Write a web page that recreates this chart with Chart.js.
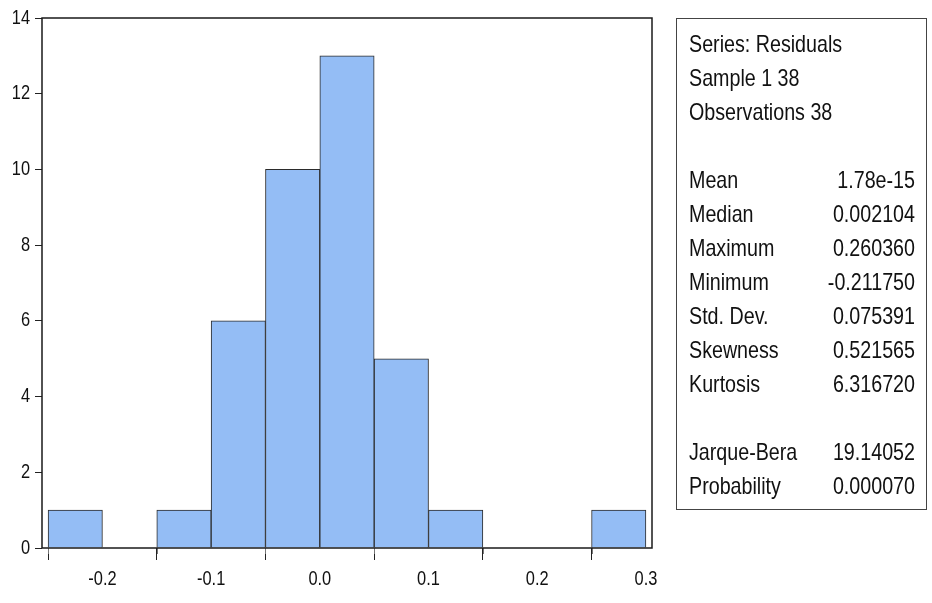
<!DOCTYPE html>
<html>
<head>
<meta charset="utf-8">
<script src="https://cdn.jsdelivr.net/npm/chart.js@4.4.0/dist/chart.umd.min.js"></script>
<style>
  html, body { margin: 0; padding: 0; background: #ffffff; }
  #wrap { width: 932px; height: 603px; position: relative; }
</style>
</head>
<body>
<div id="wrap"><canvas id="hist" width="932" height="603"></canvas></div>
<script>
// Histogram of residuals: bins of width 0.05 starting at each value below
const binStarts = [-0.25, -0.20, -0.15, -0.10, -0.05, 0.00, 0.05, 0.10, 0.15, 0.20, 0.25];
const binCounts = [1, 0, 1, 6, 10, 13, 5, 1, 0, 0, 1];
const binWidth = 0.05;

// Axis ticks
const xTickValues = [-0.2, -0.1, 0.0, 0.1, 0.2, 0.3];
const xTickLabels = ['-0.2', '-0.1', '0.0', '0.1', '0.2', '0.3'];
const xMinorTicks = [-0.25, -0.15, -0.05, 0.05, 0.15, 0.25];
const yTickValues = [0, 2, 4, 6, 8, 10, 12, 14];

// Descriptive statistics panel
const statsHeader = ['Series: Residuals', 'Sample 1 38', 'Observations 38'];
const statNames = ['Mean', 'Median', 'Maximum', 'Minimum', 'Std. Dev.', 'Skewness', 'Kurtosis'];
const statValues = ['1.78e-15', '0.002104', '0.260360', '-0.211750', '0.075391', '0.521565', '6.316720'];
const testNames = ['Jarque-Bera', 'Probability'];
const testValues = ['19.14052', '0.000070'];

const FONT = '"Liberation Sans", Arial, sans-serif';
const NARROW = 0.82; // horizontal squeeze giving a narrow sans face
Chart.defaults.font.family = FONT;

// Run a drawing function with fillText squeezed horizontally about its anchor
function withNarrowText(ctx, fn) {
  const orig = ctx.fillText;
  ctx.fillText = function (t, x, y) {
    this.save();
    this.translate(x, y);
    this.scale(NARROW, 1);
    orig.call(this, t, 0, 0);
    this.restore();
  };
  try { fn(); } finally { ctx.fillText = orig; }
}

// Axis labels of linear scales use the narrow text as well
const baseDrawLabels = Chart.LinearScale.prototype.drawLabels;
Chart.LinearScale.prototype.drawLabels = function (area) {
  withNarrowText(this.ctx, () => baseDrawLabels.call(this, area));
};

// Frame round the plot area and short ticks at the odd bin edges
const framePlugin = {
  id: 'frame',
  afterDraw(chart) {
    const { ctx, chartArea: a, scales } = chart;
    ctx.save();
    ctx.strokeStyle = '#777777';
    ctx.lineWidth = 1;
    xMinorTicks.forEach(v => {
      const px = Math.round(scales.x.getPixelForValue(v)) + 0.5;
      ctx.beginPath();
      ctx.moveTo(px, a.bottom);
      ctx.lineTo(px, a.bottom + 6);
      ctx.stroke();
    });
    ctx.strokeStyle = '#1a1a1a';
    ctx.lineWidth = 1.5;
    ctx.strokeRect(a.left, a.top, a.right - a.left, a.bottom - a.top);
    ctx.restore();
  }
};

// Statistics box to the right of the histogram
const statsPlugin = {
  id: 'statsBox',
  afterDraw(chart) {
    const ctx = chart.ctx;
    const box = { left: 676.5, top: 18.5, right: 926.5, bottom: 509.5 };
    ctx.save();
    ctx.fillStyle = '#ffffff';
    ctx.fillRect(box.left, box.top, box.right - box.left, box.bottom - box.top);
    ctx.strokeStyle = '#444444';
    ctx.lineWidth = 1;
    ctx.strokeRect(box.left, box.top, box.right - box.left, box.bottom - box.top);
    ctx.font = '24px ' + FONT;
    ctx.fillStyle = '#111111';
    ctx.textBaseline = 'alphabetic';
    const x0 = 689, x1 = 915, y0 = 52, lh = 34;
    const rows = [];
    statsHeader.forEach(t => rows.push([t, '']));
    rows.push(null);
    statNames.forEach((n, i) => rows.push([n, statValues[i]]));
    rows.push(null);
    testNames.forEach((n, i) => rows.push([n, testValues[i]]));
    withNarrowText(ctx, () => {
      rows.forEach((r, i) => {
        if (!r) return;
        const y = y0 + i * lh;
        ctx.textAlign = 'left';
        ctx.fillText(r[0], x0, y);
        if (r[1]) {
          ctx.textAlign = 'right';
          ctx.fillText(r[1], x1, y);
        }
      });
    });
    ctx.restore();
  }
};

new Chart(document.getElementById('hist'), {
  type: 'bar',
  data: {
    datasets: [{
      data: binStarts.map((s, i) => ({ x: s + binWidth / 2, y: binCounts[i] })),
      backgroundColor: '#94bdf5',
      borderColor: '#2b2b2b',
      borderWidth: 1,
      barPercentage: 1,
      categoryPercentage: 1
    }]
  },
  options: {
    responsive: false,
    animation: false,
    devicePixelRatio: 1,
    layout: { padding: { left: 0, top: 18, right: 280, bottom: 0 } },
    plugins: { legend: { display: false }, tooltip: { enabled: false } },
    scales: {
      x: {
        type: 'linear',
        min: -0.2556,
        max: 0.3056,
        offset: false,
        afterBuildTicks: s => { s.ticks = xTickValues.map(v => ({ value: v })); },
        afterFit: s => { s.height = 55; },
        ticks: {
          callback: (v, i) => xTickLabels[i],
          font: { size: 20 },
          color: '#111111',
          padding: 7,
          maxRotation: 0,
          autoSkip: false
        },
        grid: { drawOnChartArea: false, tickLength: 12, tickColor: '#222222', tickWidth: 1 },
        border: { display: false }
      },
      y: {
        min: 0,
        max: 14,
        afterBuildTicks: s => { s.ticks = yTickValues.map(v => ({ value: v })); },
        afterFit: s => { s.width = 42; },
        ticks: { font: { size: 20 }, color: '#111111', padding: 5 },
        grid: { drawOnChartArea: false, tickLength: 7, tickColor: '#222222', tickWidth: 1 },
        border: { display: false }
      }
    }
  },
  plugins: [framePlugin, statsPlugin]
});
</script>
</body>
</html>
